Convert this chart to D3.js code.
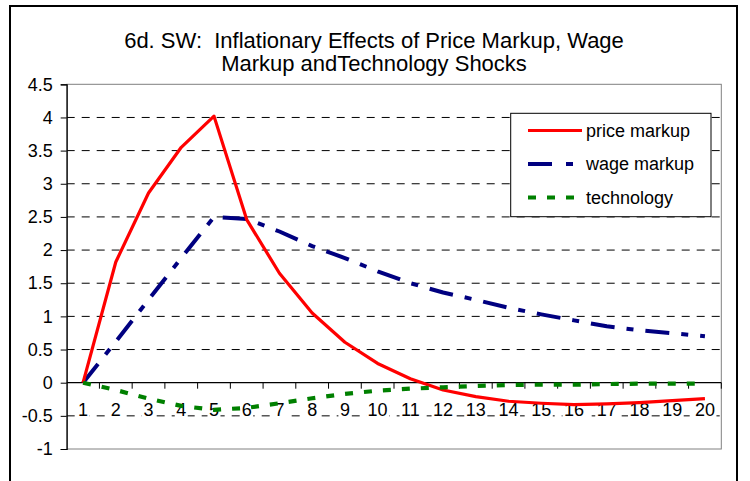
<!DOCTYPE html>
<html>
<head>
<meta charset="utf-8">
<script src="https://cdn.jsdelivr.net/npm/d3@7"></script>
<style>
  html, body { margin: 0; padding: 0; background: #fff; }
  svg { display: block; }
  text { font-family: "Liberation Sans", Arial, sans-serif; fill: #000; }
</style>
</head>
<body>
<div id="chart"></div>
<script>
// ---- data ----
const categories = ["1","2","3","4","5","6","7","8","9","10","11","12","13","14","15","16","17","18","19","20"];
const priceMarkup = [0, 1.82, 2.86, 3.55, 4.02, 2.46, 1.65, 1.05, 0.61, 0.29, 0.06, -0.11, -0.21, -0.28, -0.31, -0.33, -0.32, -0.30, -0.27, -0.24];
const wageMarkup = [0, 0.62, 1.25, 1.88, 2.50, 2.47, 2.28, 2.06, 1.88, 1.68, 1.50, 1.36, 1.25, 1.13, 1.03, 0.94, 0.85, 0.79, 0.745, 0.70];
const technology = [0, -0.11, -0.24, -0.35, -0.41, -0.38, -0.31, -0.235, -0.17, -0.12, -0.09, -0.07, -0.05, -0.035, -0.03, -0.03, -0.02, -0.015, -0.015, -0.015];
const yTicks = [-1, -0.5, 0, 0.5, 1, 1.5, 2, 2.5, 3, 3.5, 4, 4.5];
const seriesNames = ["price markup", "wage markup", "technology"];
const titleLines = ["6d. SW:  Inflationary Effects of Price Markup, Wage", "Markup andTechnology Shocks"];

// ---- layout ----
const W = 750, H = 481;
const plot = { left: 66.7, right: 721.3, top: 84.3, bottom: 449 };

const svg = d3.select("#chart").append("svg").attr("width", W).attr("height", H);

// outer frame
svg.append("rect").attr("x", 10).attr("y", 6).attr("width", 727).attr("height", 500)
  .attr("fill", "#fff").attr("stroke", "#000").attr("stroke-width", 2);

// title
svg.append("text").attr("x", 374).attr("y", 47.7).attr("text-anchor", "middle")
  .style("font-size", "22px").style("white-space", "pre").attr("xml:space", "preserve")
  .text(titleLines[0]);
svg.append("text").attr("x", 374).attr("y", 70.8).attr("text-anchor", "middle")
  .style("font-size", "22px").text(titleLines[1]);

const x = d3.scalePoint().domain(categories).range([plot.left, plot.right]).padding(0.5);
const xBand = d3.scaleBand().domain(categories).range([plot.left, plot.right]);
const y = d3.scaleLinear().domain([-1, 4.5]).range([plot.bottom, plot.top]);

// gridlines (dashed)
const grid = svg.append("g");
grid.selectAll("line").data(yTicks.filter(v => v !== 0 && v !== -1 && v !== 4.5)).enter()
  .append("line")
  .attr("x1", plot.left).attr("x2", plot.right)
  .attr("y1", d => y(d)).attr("y2", d => y(d))
  .attr("stroke", "#000").attr("stroke-width", 1).attr("stroke-dasharray", "8,7");

// plot border (grey)
svg.append("rect").attr("x", plot.left).attr("y", plot.top)
  .attr("width", plot.right - plot.left).attr("height", plot.bottom - plot.top)
  .attr("fill", "none").attr("stroke", "#808080").attr("stroke-width", 1);

// y axis
const yAxis = d3.axisLeft(y).tickValues(yTicks).tickSize(6).tickPadding(8)
  .tickFormat(d => String(d));
const gy = svg.append("g").attr("transform", `translate(${plot.left},0)`).call(yAxis);
gy.select(".domain").attr("stroke", "#000").attr("stroke-width", 1.2);
gy.selectAll(".tick line").attr("stroke", "#000");
gy.selectAll("text").style("font-size", "18px").attr("font-family", null);

// x axis at y = 0
const xAxisG = svg.append("g").attr("transform", `translate(0,${y(0)})`);
xAxisG.append("line").attr("x1", plot.left).attr("x2", plot.right).attr("y1", 0).attr("y2", 0)
  .attr("stroke", "#000").attr("stroke-width", 1.2);
xAxisG.selectAll("line.tk").data(categories).enter().append("line").attr("class", "tk")
  .attr("x1", d => xBand(d) + xBand.bandwidth()).attr("x2", d => xBand(d) + xBand.bandwidth())
  .attr("y1", 0).attr("y2", 6).attr("stroke", "#000");

// x labels with white background
const xl = svg.append("g");
const labs = xl.selectAll("g").data(categories).enter().append("g");
labs.append("rect");
labs.append("text").attr("x", d => x(d)).attr("y", 415.7).attr("text-anchor", "middle")
  .style("font-size", "18px").text(d => d);
labs.each(function() {
  const t = d3.select(this).select("text").node().getBBox();
  d3.select(this).select("rect").attr("x", t.x - 1.5).attr("y", t.y + 2).attr("width", t.width + 3)
    .attr("height", t.height - 2).attr("fill", "#fff");
});

// series
const line = d3.line().x((d, i) => x(categories[i])).y(d => y(d));
const styles = [
  { data: wageMarkup, color: "#000080", width: 4, dash: "24,12,7,12" },
  { data: priceMarkup, color: "#FF0000", width: 3.2, dash: null },
  { data: technology, color: "#008000", width: 4.2, dash: "8,11" }
];
styles.forEach(s => {
  svg.append("path").datum(s.data).attr("d", line).attr("fill", "none")
    .attr("stroke", s.color).attr("stroke-width", s.width)
    .attr("stroke-dasharray", s.dash).attr("stroke-linejoin", "round");
});

// legend
const lg = svg.append("g");
lg.append("rect").attr("x", 510.7).attr("y", 113.3).attr("width", 200.3).attr("height", 103.4)
  .attr("fill", "#fff").attr("stroke", "#000").attr("stroke-width", 1);
const legendStyles = [
  { color: "#FF0000", width: 3.2, dash: null },
  { color: "#000080", width: 4, dash: "24,14,7,14" },
  { color: "#008000", width: 4.2, dash: "8,11" }
];
const rowY = [130.5, 164, 197.5];
seriesNames.forEach((name, i) => {
  lg.append("line").attr("x1", 528).attr("x2", 582).attr("y1", rowY[i]).attr("y2", rowY[i])
    .attr("stroke", legendStyles[i].color).attr("stroke-width", legendStyles[i].width)
    .attr("stroke-dasharray", legendStyles[i].dash);
  lg.append("text").attr("x", 586).attr("y", rowY[i]).attr("dy", "0.35em")
    .style("font-size", "18px").text(name);
});
</script>
</body>
</html>
